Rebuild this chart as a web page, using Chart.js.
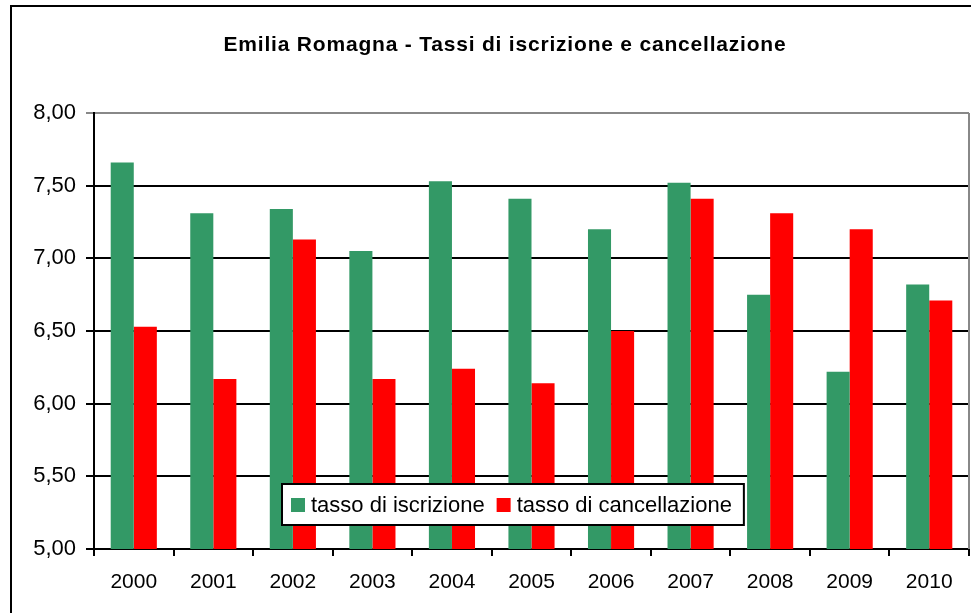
<!DOCTYPE html>
<html>
<head>
<meta charset="utf-8">
<script src="https://cdn.jsdelivr.net/npm/chart.js@4"></script>
<style>
    html, body { margin: 0; padding: 0; background: #fff; }
    #wrap { width: 971px; height: 613px; }
</style>
</head>
<body>
<div id="wrap"><canvas id="grafico"></canvas></div>
<script>
const titolo = 'Emilia Romagna - Tassi di iscrizione e cancellazione';
const anni = ['2000', '2001', '2002', '2003', '2004', '2005', '2006', '2007', '2008', '2009', '2010'];
const tassoIscrizione = [7.66, 7.31, 7.34, 7.05, 7.53, 7.41, 7.20, 7.52, 6.75, 6.22, 6.82];
const tassoCancellazione = [6.53, 6.17, 7.13, 6.17, 6.24, 6.14, 6.50, 7.41, 7.31, 7.20, 6.71];
const etichette = ['tasso di iscrizione', 'tasso di cancellazione'];
const colori = ['#339966', '#FF0000'];

const FONT = '"Liberation Sans", Arial, sans-serif';

// cornice esterna, bordo dell'area e titolo
const cornice = {
    id: 'cornice',
    afterDraw(chart) {
        const c = chart.ctx;
        const a = chart.chartArea;
        c.save();
        c.strokeStyle = '#000';
        c.lineWidth = 2;
        c.beginPath();
        c.moveTo(11, 613);
        c.lineTo(11, 6);
        c.lineTo(971, 6);
        c.stroke();

        c.strokeStyle = '#888';
        c.beginPath();
        c.moveTo(a.right, a.top);
        c.lineTo(a.right, a.bottom);
        c.stroke();

        c.fillStyle = '#000';
        c.font = 'bold 21px ' + FONT;
        c.letterSpacing = '0.8px';
        c.textAlign = 'center';
        c.textBaseline = 'alphabetic';
        c.fillText(titolo, 505, 51);
        c.restore();
    }
};

// legenda dentro l'area del grafico
const legenda = {
    id: 'legenda',
    afterDraw(chart) {
        const c = chart.ctx;
        c.save();
        c.font = '22px ' + FONT;
        const x0 = 282, y0 = 484, h = 41;
        let w = 9;
        chart.data.datasets.forEach(ds => {
            w += 14 + 6 + c.measureText(ds.label).width + 12;
        });
        c.fillStyle = '#fff';
        c.fillRect(x0, y0, w, h);
        c.strokeStyle = '#000';
        c.lineWidth = 2;
        c.strokeRect(x0, y0, w, h);
        let x = x0 + 9;
        c.textBaseline = 'middle';
        c.textAlign = 'left';
        chart.data.datasets.forEach(ds => {
            c.fillStyle = ds.backgroundColor;
            c.fillRect(x, 498, 14, 14);
            x += 20;
            c.fillStyle = '#000';
            c.fillText(ds.label, x, 506);
            x += c.measureText(ds.label).width + 12;
        });
        c.restore();
    }
};

const ctx = document.getElementById('grafico').getContext('2d');
new Chart(ctx, {
    type: 'bar',
    data: {
        labels: anni,
        datasets: [
            { label: etichette[0], data: tassoIscrizione, backgroundColor: colori[0] },
            { label: etichette[1], data: tassoCancellazione, backgroundColor: colori[1] }
        ]
    },
    options: {
        responsive: true,
        maintainAspectRatio: false,
        animation: false,
        layout: { padding: { top: 113, right: 2, left: 0, bottom: 0 } },
        datasets: {
            bar: { categoryPercentage: 0.58, barPercentage: 1.0 }
        },
        scales: {
            x: {
                afterFit(scale) { scale.height = 64; },
                grid: {
                    offset: true,
                    drawOnChartArea: false,
                    tickLength: 7,
                    color: '#000',
                    lineWidth: 2
                },
                border: { color: '#000', width: 2 },
                ticks: {
                    color: '#000',
                    padding: 14,
                    font: { family: FONT, size: 21 }
                }
            },
            y: {
                min: 5,
                max: 8,
                afterFit(scale) { scale.width = 94; },
                grid: {
                    tickLength: 8,
                    lineWidth: 2,
                    color: c => (c.tick && c.tick.value === 8 ? '#888' : '#000')
                },
                border: { color: '#000', width: 2 },
                ticks: {
                    stepSize: 0.5,
                    color: '#000',
                    padding: 10,
                    font: { family: FONT, size: 22 },
                    callback: v => v.toFixed(2).replace('.', ',')
                }
            }
        },
        plugins: {
            legend: { display: false },
            title: { display: false },
            tooltip: { enabled: false }
        }
    },
    plugins: [cornice, legenda]
});
</script>
</body>
</html>
